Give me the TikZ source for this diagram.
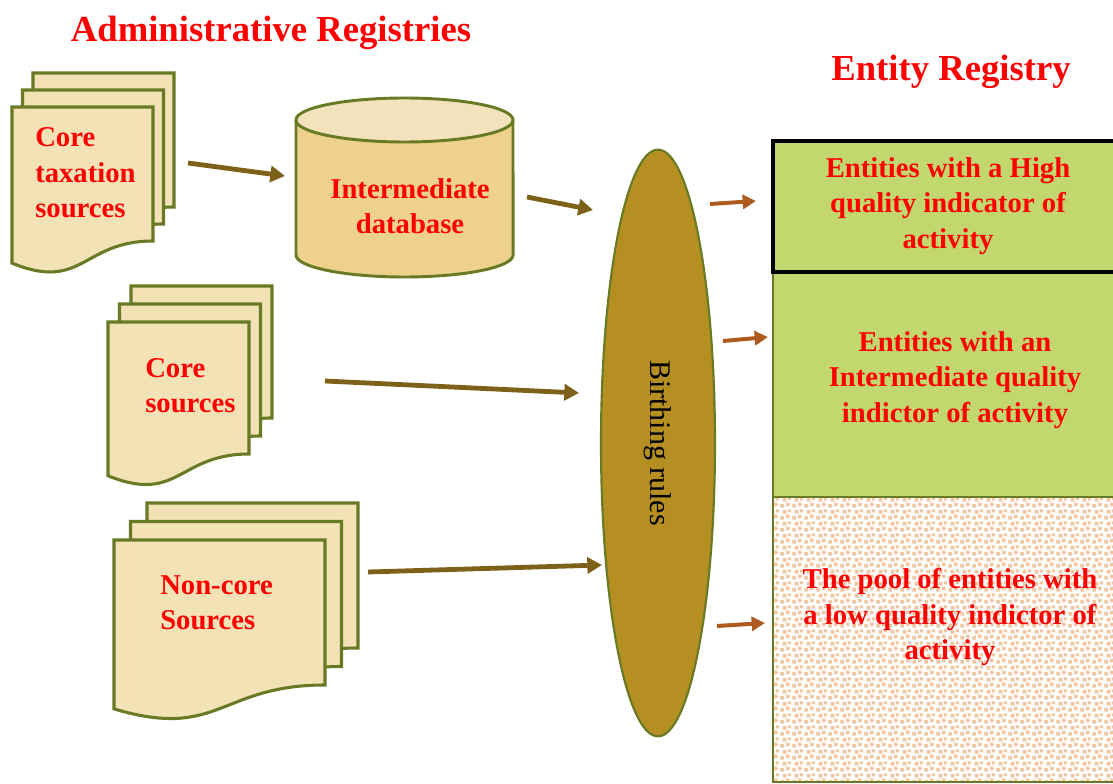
\documentclass[tikz,border=0pt]{standalone}
\usepackage{fontspec}
\setmainfont{Liberation Serif}
\usetikzlibrary{shapes.geometric,arrows.meta,patterns}

\definecolor{docfill}{HTML}{F2E2B6}
\definecolor{olivedge}{HTML}{687A23}
\definecolor{cylbody}{HTML}{EDD18C}
\definecolor{cyltop}{HTML}{F2E3BD}
\definecolor{birthfill}{HTML}{B58F22}
\definecolor{feedbrown}{HTML}{7D6119}
\definecolor{outorange}{HTML}{AD5B1F}
\definecolor{regreen}{HTML}{C3D76F}
\definecolor{peach}{HTML}{F2C6A0}

\pgfdeclarepatternformonly{peachsquares}{\pgfpointorigin}{\pgfqpoint{9pt}{9pt}}{\pgfqpoint{9pt}{9pt}}{
  \pgfpathrectangle{\pgfqpoint{0.3pt}{0.3pt}}{\pgfqpoint{3pt}{3pt}}
  \pgfpathrectangle{\pgfqpoint{5pt}{1.6pt}}{\pgfqpoint{2.8pt}{2.8pt}}
  \pgfpathrectangle{\pgfqpoint{2.2pt}{5.2pt}}{\pgfqpoint{3pt}{3pt}}
  \pgfpathrectangle{\pgfqpoint{6.4pt}{6.2pt}}{\pgfqpoint{2.4pt}{2.4pt}}
  \pgfusepath{fill}}

% one sheet of a document stack: left, top, width, height of right edge
\newcommand{\docsheet}[4]{%
  \draw[docpage] (#1,#2) -- (#1+#3,#2) -- (#1+#3,#2+#4)
    .. controls (#1+0.5*#3,#2+#4) and (#1+0.5*#3,#2+1.381*#4) .. (#1,#2+1.165*#4) -- cycle;}

\begin{document}
\begin{tikzpicture}
        [
        x=0.75pt, y=-0.75pt,
        every node/.style={inner sep=0pt, text=red, font=\fontsize{21.5}{26.5}\selectfont\bfseries},
        title/.style={font=\fontsize{27.5}{33}\selectfont\bfseries},
        docpage/.style={draw=olivedge, fill=docfill, line width=2.3pt},
        srctext/.style={anchor=west, align=left},
        outline/.style={draw=olivedge, line width=2.2pt},
        feed/.style={draw=feedbrown, line width=3.6pt, -{Triangle[length=11pt,width=12pt]}},
        result/.style={draw=outorange, line width=3pt, -{Triangle[length=10pt,width=10.5pt]}},
        regbox/.style={rectangle, minimum width=262.5pt, draw=olivedge, line width=2pt}
        ]
        \useasboundingbox (0,0) rectangle (1113,784);
        % Titles
        \node[title] (admin) at (271,33) {Administrative Registries};
        \node[title] (entreg) at (951,72) {Entity Registry};
        % Document stacks
        \foreach \k in {2,1,0} \docsheet{12+10.5*\k}{107-17*\k}{141}{134};
        \foreach \k in {2,1,0} \docsheet{108+11.5*\k}{322-18*\k}{141}{132};
        \foreach \k in {2,1,0} \docsheet{114+16.5*\k}{540-18.5*\k}{211}{145};
        \node[srctext] (taxsrc) at (35,173) {Core\\taxation\\sources};
        \node[srctext] (coresrc) at (145,386) {Core\\sources};
        \node[srctext] (noncore) at (160,603) {Non-core\\Sources};
        % Intermediate database
        \fill[cylbody] (296,120) rectangle (513,255);
        \fill[cylbody] (404.5,255) ellipse [x radius=81.4pt, y radius=16.5pt];
        \draw[outline] (296,120) -- (296,255) arc[start angle=180, end angle=360, x radius=81.4pt, y radius=16.5pt] -- (513,120);
        \draw[outline, fill=cyltop] (404.5,120) ellipse [x radius=81.4pt, y radius=16.5pt];
        \node[align=center] (interdb) at (410,206) {Intermediate\\database};
        % Birthing rules
        \node[ellipse, draw=olivedge, line width=1.6pt, fill=birthfill, rotate=-90,
              minimum width=440pt, minimum height=85.5pt, text=black,
              font=\fontsize{22.5}{27}\selectfont] (birth) at (658,443) {Birthing rules};
        % Entity registry
        \node[regbox, minimum height=213.75pt, preaction={fill=white}, pattern=peachsquares, pattern color=peach] (poolbox) at (948,639.5) {};
        \node[regbox, minimum height=168.75pt, fill=regreen] (midbox) at (948,384.5) {};
        \node[regbox, minimum height=98.25pt, fill=regreen, draw=black, line width=2.5pt] (highbox) at (948,206.5) {};
        \node[align=center] (hightxt) at (948,206) {Entities with a High\\quality indicator of\\activity};
        \node[align=center] (midtxt) at (955,380) {Entities with an\\Intermediate quality\\indictor of activity};
        \node[align=center] (pooltxt) at (950,617) {The pool of entities with\\a low quality indictor of\\activity};
        % Arrows
        \coordinate (taxout) at (188,163);  \coordinate (dbin) at (285,176);
        \coordinate (dbout) at (527,197);   \coordinate (brin1) at (593,210);
        \coordinate (coreout) at (325,381); \coordinate (brin2) at (579,393);
        \coordinate (ncout) at (368,572);   \coordinate (brin3) at (602,565);
        \coordinate (brout1) at (710,204);  \coordinate (highin) at (756,201);
        \coordinate (brout2) at (723,341);  \coordinate (midin) at (768,337);
        \coordinate (brout3) at (717,626);  \coordinate (poolin) at (765,623);
        \draw[feed] (taxout) -- (dbin);
        \draw[feed] (dbout) -- (brin1);
        \draw[feed] (coreout) -- (brin2);
        \draw[feed] (ncout) -- (brin3);
        \draw[result] (brout1) -- (highin);
        \draw[result] (brout2) -- (midin);
        \draw[result] (brout3) -- (poolin);
    \end{tikzpicture}
\end{document}
